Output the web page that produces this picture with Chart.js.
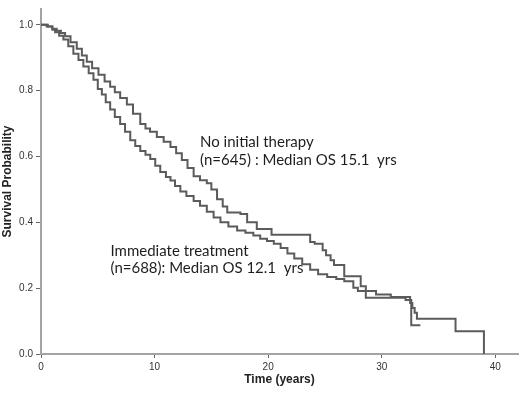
<!DOCTYPE html>
<html>
<head>
<meta charset="utf-8">
<script src="https://cdn.jsdelivr.net/npm/chart.js@4"></script>
<style>
  body { margin: 0; background: #fff; }
  #wrap { width: 520px; height: 395px; }
</style>
</head>
<body>
<div id="wrap"><canvas id="km" width="520" height="395"></canvas></div>
<script>
// Immediate treatment (n=688): time (years) and survival after each step
const immTime = [0, 0.5, 1.0, 1.24, 1.6, 1.97, 2.4, 2.85, 3.3, 3.73, 4.2, 4.62, 5.0, 5.36, 5.7, 6.09, 6.5, 6.97, 7.4, 7.86,
  8.3, 8.74, 9.2, 9.62, 10.06, 10.5, 11.0, 11.4, 11.8, 12.27, 12.8, 13.44, 14.0, 14.6, 15.2, 15.8, 16.5, 17.27, 18.0, 18.7,
  19.3, 19.9, 20.5, 21.1, 21.7, 22.3, 23.0, 23.7, 24.4, 25.2, 26.0, 26.7, 27.5, 27.9, 29.5, 30.8, 32.5, 32.7, 32.9, 33.1,
  36.5, 39.0];
const immSurv = [1.0, 0.995, 0.985, 0.977, 0.967, 0.955, 0.935, 0.912, 0.893, 0.873, 0.853, 0.833, 0.805, 0.788, 0.765, 0.743, 0.72, 0.699, 0.675, 0.649,
  0.632, 0.617, 0.605, 0.592, 0.572, 0.553, 0.538, 0.527, 0.51, 0.494, 0.48, 0.465, 0.45, 0.432, 0.415, 0.40, 0.387, 0.375, 0.368, 0.36,
  0.35, 0.343, 0.335, 0.322, 0.305, 0.29, 0.273, 0.256, 0.242, 0.234, 0.228, 0.221, 0.201, 0.191, 0.181, 0.173, 0.155, 0.14, 0.125, 0.107,
  0.069, 0.0];

// No initial therapy (n=645)
const noTime = [0, 0.6, 1.0, 1.38, 1.75, 2.12, 2.6, 3.15, 3.6, 4.03, 4.5, 5.06, 5.6, 6.09, 6.5, 6.97, 7.56, 8.1, 8.74, 9.2,
  9.6, 10.2, 10.8, 11.4, 11.9, 12.4, 12.9, 13.44, 14.0, 14.6, 15.0, 15.5, 16.0, 16.4, 17.56, 18.15, 19.0, 20.3, 23.7, 24.1,
  24.8, 25.1, 25.5, 25.8, 26.7, 28.15, 28.6, 32.1, 32.6, 33.4];
const noSurv = [1.0, 0.995, 0.988, 0.982, 0.975, 0.965, 0.947, 0.927, 0.907, 0.888, 0.868, 0.848, 0.828, 0.812, 0.795, 0.778, 0.758, 0.73, 0.699, 0.685,
  0.675, 0.659, 0.645, 0.629, 0.61, 0.589, 0.565, 0.54, 0.528, 0.519, 0.50, 0.47, 0.448, 0.43, 0.425, 0.40, 0.38, 0.362, 0.34, 0.335,
  0.315, 0.30, 0.285, 0.27, 0.236, 0.206, 0.171, 0.164, 0.087, 0.087];

const xTicks = [0, 10, 20, 30, 40];
const yTicks = [0.0, 0.2, 0.4, 0.6, 0.8, 1.0];

const noLabel = ['No initial therapy', '(n=645) : Median OS 15.1  yrs'];
const immLabel = ['Immediate treatment', '(n=688): Median OS 12.1  yrs'];

const toPoints = (t, s) => t.map((v, i) => ({ x: v, y: s[i] }));

const lineColor = '#5b5b5b';
const axisFont = 'Liberation Sans';

// annotation text, anchored in data coordinates
const notes = {
    id: 'notes',
    afterDatasetsDraw(chart) {
        const { ctx, scales: { x, y } } = chart;
        ctx.save();
        ctx.fillStyle = '#1e1e1e';
        ctx.font = '15px Lato';
        ctx.textBaseline = 'middle';
        ctx.textAlign = 'left';
        ctx.fillText(noLabel[0], x.getPixelForValue(14.0), y.getPixelForValue(0.642));
        ctx.fillText(noLabel[1], x.getPixelForValue(14.0), y.getPixelForValue(0.588));
        ctx.fillText(immLabel[0], x.getPixelForValue(6.12), y.getPixelForValue(0.313));
        ctx.fillText(immLabel[1], x.getPixelForValue(6.12), y.getPixelForValue(0.26));
        ctx.restore();
    }
};

new Chart(document.getElementById('km').getContext('2d'), {
    type: 'line',
    data: {
        datasets: [{
            label: 'Immediate treatment',
            data: toPoints(immTime, immSurv),
            borderColor: lineColor,
            borderWidth: 2,
            pointRadius: 0,
            stepped: true,
            fill: false
        }, {
            label: 'No initial therapy',
            data: toPoints(noTime, noSurv),
            borderColor: lineColor,
            borderWidth: 2,
            pointRadius: 0,
            stepped: true,
            fill: false
        }]
    },
    options: {
        responsive: false,
        animation: false,
        devicePixelRatio: 1,
        layout: { padding: { top: 3, right: 2, left: 0, bottom: 0 } },
        plugins: {
            legend: { display: false },
            tooltip: { enabled: false }
        },
        scales: {
            x: {
                type: 'linear',
                min: 0,
                max: 42,
                afterFit: s => { s.height = 41; },
                afterBuildTicks: s => { s.ticks = xTicks.map(v => ({ value: v })); },
                border: { color: '#a3a3a3', width: 2 },
                grid: { drawOnChartArea: false, drawTicks: true, tickLength: 4, color: '#666' },
                ticks: {
                    color: '#333',
                    padding: 3,
                    maxRotation: 0,
                    font: { family: axisFont, size: 10 }
                },
                title: {
                    display: true,
                    text: 'Time (years)',
                    color: '#222',
                    padding: { top: 0, bottom: 8 },
                    font: { family: axisFont, size: 12, weight: 'bold' }
                }
            },
            y: {
                min: 0,
                max: 1.048,
                afterFit: s => { s.width = 41; },
                afterBuildTicks: s => { s.ticks = yTicks.map(v => ({ value: v })); },
                border: { color: '#a3a3a3', width: 2 },
                grid: { drawOnChartArea: false, drawTicks: true, tickLength: 5, color: '#666' },
                ticks: {
                    color: '#333',
                    padding: 3,
                    font: { family: axisFont, size: 10 },
                    callback: v => v.toFixed(1)
                },
                title: {
                    display: true,
                    text: 'Survival Probability',
                    color: '#222',
                    padding: { top: 0, bottom: 0 },
                    font: { family: axisFont, size: 12, weight: 'bold' }
                }
            }
        }
    },
    plugins: [notes]
});
</script>
</body>
</html>
